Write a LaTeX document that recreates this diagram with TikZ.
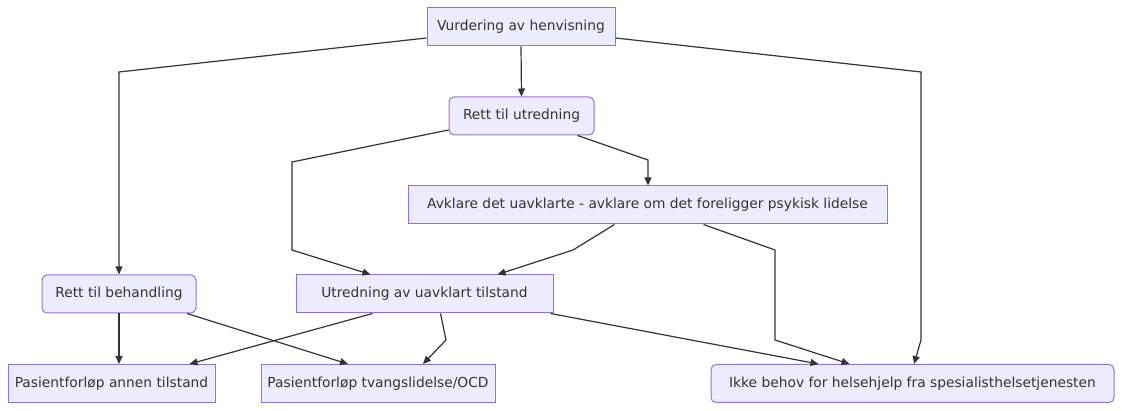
\documentclass[tikz,border=0pt]{standalone}
\usepackage{fontspec}
\setmainfont{DejaVu Sans}
\usetikzlibrary{arrows.meta,positioning,calc}

\definecolor{boxfill}{HTML}{ECECFF}
\definecolor{boxline}{HTML}{9370DB}
\definecolor{ink}{HTML}{333333}

\tikzset{
  box/.style={draw=boxline, fill=boxfill, line width=1pt, text=ink,
    minimum height=38, inner xsep=0pt, font=\fontsize{13.8}{16}\selectfont},
  roundbox/.style={box, rounded corners=5pt},
  arr/.style={draw=ink, line width=1.2pt, -{Triangle[length=8pt,width=7pt]}}
}

\begin{document}
\begin{tikzpicture}[x=1pt, y=-1pt]
        \useasboundingbox (0,0) rectangle (1122,411);
        % nodes
        \node[box, minimum width=188] (vurd) at (521,27) {Vurdering av henvisning};
        \node[roundbox, minimum width=145] (rettutr) at (521.5,116) {Rett til utredning};
        \node[box, minimum width=479] (avklare) at (647.5,205) {Avklare det uavklarte - avklare om det foreligger psykisk lidelse};
        \node[roundbox, minimum width=154] (rettbeh) at (119,294) {Rett til behandling};
        \node[box, minimum width=257] (utred) at (424.5,294) {Utredning av uavklart tilstand};
        \node[box, minimum width=207] (annen) at (111.5,383.5) {Pasientforløp annen tilstand};
        \node[box, minimum width=234] (tvang) at (378,383.5) {Pasientforløp tvangslidelse/OCD};
        \node[roundbox, minimum width=403] (ikke) at (912.5,383.5) {Ikke behov for helsehjelp fra spesialisthelsetjenesten};

        % connectors
        \draw[arr] ([yshift=-11]vurd.west) -- (119,72) -- (rettbeh.north);
        \draw[arr] (vurd.south) -- (rettutr.north);
        \draw[arr] ([yshift=-11]vurd.east) -- (921,72) -- (921,340) -- ([xshift=1.5]ikke.north);
        \draw[arr] ([yshift=-14]rettutr.west) -- (292,162) -- (292,250) -- ([xshift=-54]utred.north);
        \draw[arr] ([xshift=56]rettutr.south) -- (648,160) -- ([xshift=0.5]avklare.north);
        \draw[arr] ([xshift=-33]avklare.south) -- (573,250) -- ([xshift=73]utred.north);
        \draw[arr] ([xshift=56]avklare.south) -- (775,250) -- (775,340) -- ([xshift=-63]ikke.north);
        \draw[arr] (rettbeh.south) -- ([xshift=7.5]annen.north);
        \draw[arr] ([xshift=68]rettbeh.south) -- ([xshift=-30]tvang.north);
        \draw[arr] ([xshift=-52]utred.south) -- ([xshift=78]annen.north);
        \draw[arr] ([xshift=16]utred.south) -- (446,340) -- ([xshift=45]tvang.north);
        \draw[arr] ([xshift=126]utred.south) -- ([xshift=-94]ikke.north);
\end{tikzpicture}
\end{document}
